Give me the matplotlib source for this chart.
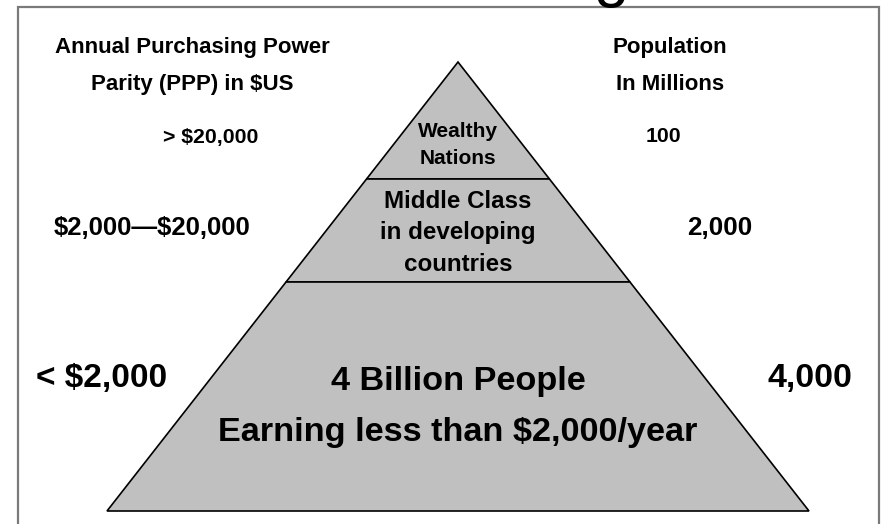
import matplotlib
matplotlib.use("Agg")
import matplotlib.pyplot as plt
from matplotlib.patches import Polygon

# ---- data ----
tiers = ["Wealthy\nNations", "Middle Class\nin developing\ncountries",
         "4 Billion People\nEarning less than $2,000/year"]
income_labels = ["> $20,000", "$2,000\u2014$20,000", "< $2,000"]
population = [100, 2000, 4000]
left_header = "Annual Purchasing Power\nParity (PPP) in $US"
right_header = "Population\nIn Millions"

plt.rcParams["font.family"] = ["Liberation Sans", "DejaVu Sans"]
plt.rcParams["text.parse_math"] = False

W, H = 883, 524
fig = plt.figure(figsize=(W / 100, H / 100), dpi=100)
ax = fig.add_axes([0, 0, 1, 1])
ax.set_xlim(0, W)
ax.set_ylim(H, 0)
ax.axis("off")

# frame
fc = "#7a7a7a"
ax.plot([18, 18, 879, 879], [H + 5, 7, 7, H + 5], color=fc, lw=1.6,
        solid_joinstyle="miter", clip_on=False)
# partially visible title glyph
ax.text(611, -5, "g", fontsize=46, ha="center", va="baseline", color="black")

# pyramid geometry
cx, top_y, base_y, half_base = 458, 62, 511, 351
bounds = [top_y, 179, 282, base_y]

def hw(y):
    return half_base * (y - top_y) / (base_y - top_y)

grey = "#c0c0c0"
for i in range(3):
    y0, y1 = bounds[i], bounds[i + 1]
    pts = [(cx - hw(y0), y0), (cx + hw(y0), y0), (cx + hw(y1), y1), (cx - hw(y1), y1)]
    ax.add_patch(Polygon(pts, closed=True, facecolor=grey, edgecolor="black",
                         lw=1.2, joinstyle="miter"))

# tier labels
tier_y = [145, 233, 407]
tier_fs = [15, 17.4, 24.7]
tier_ls = [1.5, 1.47, 1.85]
for t, y, fs, ls in zip(tiers, tier_y, tier_fs, tier_ls):
    ax.text(cx, y, t, ha="center", va="center", fontsize=fs, fontweight="bold",
            linespacing=ls)

# headers
ax.text(192, 66, left_header, ha="center", va="center", fontsize=16,
        fontweight="bold", linespacing=2.0)
ax.text(670, 66, right_header, ha="center", va="center", fontsize=16,
        fontweight="bold", linespacing=2.0)

# income labels
inc_xy = [(211, 137), (152, 228), (102, 378)]
inc_fs = [15.3, 18.5, 24]
for lab, (x, y), fs in zip(income_labels, inc_xy, inc_fs):
    ax.text(x, y, lab, ha="center", va="center", fontsize=fs, fontweight="bold")

# population labels
pop_xy = [(663, 137), (720, 228), (810, 378)]
pop_fs = [15.3, 18.7, 24.5]
for v, (x, y), fs in zip(population, pop_xy, pop_fs):
    ax.text(x, y, f"{v:,}", ha="center", va="center", fontsize=fs, fontweight="bold")

fig.savefig("out.png", dpi=100)
